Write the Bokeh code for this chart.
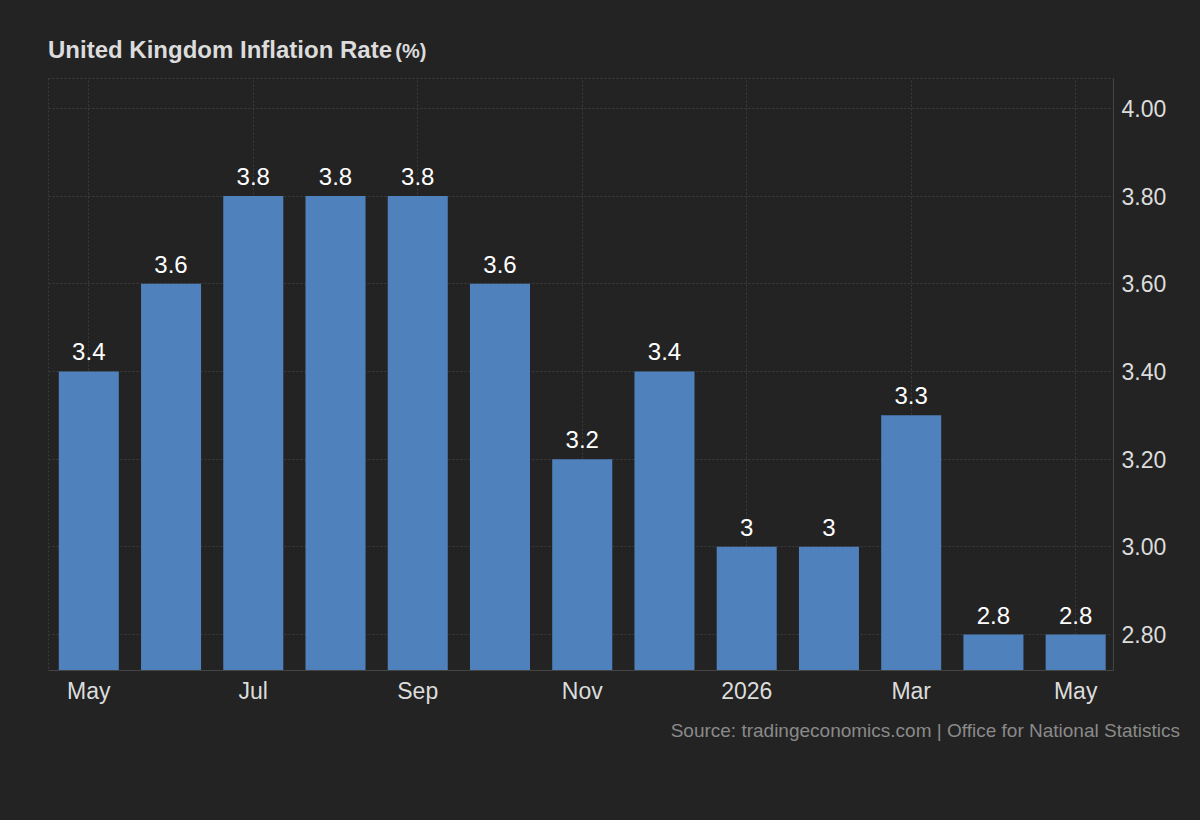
from bokeh.plotting import figure
from bokeh.models import ColumnDataSource, Range1d, FixedTicker, NumeralTickFormatter, Div
from bokeh.layouts import column
from bokeh.core.properties import value
from bokeh.embed import file_html
from bokeh.resources import INLINE

months = ["May 2025", "Jun 2025", "Jul 2025", "Aug 2025", "Sep 2025", "Oct 2025", "Nov 2025",
          "Dec 2025", "Jan 2026", "Feb 2026", "Mar 2026", "Apr 2026", "May 2026"]
rates = [3.4, 3.6, 3.8, 3.8, 3.8, 3.6, 3.2, 3.4, 3.0, 3.0, 3.3, 2.8, 2.8]
tick_labels = {0: "May", 2: "Jul", 4: "Sep", 6: "Nov", 8: "2026", 10: "Mar", 12: "May"}
y_ticks = [2.8, 3.0, 3.2, 3.4, 3.6, 3.8, 4.0]
title_text = "United Kingdom Inflation Rate"
unit_text = "(%)"
source_text = "Source: tradingeconomics.com | Office for National Statistics"

BG = "#232323"
FONT = "Liberation Sans"

idx = list(range(len(months)))
src = ColumnDataSource(dict(x=idx, month=months, rate=rates,
                            lbl=[f"{v:g}" for v in rates]))

p = figure(width=1200, height=640, output_backend="svg", toolbar_location=None,
           x_range=Range1d(-0.49, 12.46), y_range=Range1d(2.718, 4.068),
           y_axis_location="right", margin=0,
           min_border_left=48, min_border_right=87, min_border_top=8, min_border_bottom=40)
p.background_fill_color = BG
p.border_fill_color = BG
p.outline_line_color = "#3c3c3c"
p.outline_line_dash = "2 2"

p.vbar(x="x", top="rate", bottom=2.0, width=0.73, source=src,
       fill_color="#4f81bd", line_color=None)

p.text(x="x", y="rate", text="lbl", source=src, text_align="center", text_baseline="bottom",
       y_offset=-11, text_font=value(FONT), text_font_size="24px", text_color="#ffffff")

xa = p.xaxis[0]
xa.ticker = FixedTicker(ticks=list(tick_labels.keys()))
xa.major_label_overrides = tick_labels
xa.major_label_text_font = FONT
xa.major_label_text_font_size = "23px"
xa.major_label_text_color = "#dcdcdc"
xa.major_tick_line_color = None
xa.major_tick_out = 0
xa.major_tick_in = 0
xa.minor_tick_line_color = None
xa.axis_line_color = "#454545"
xa.major_label_standoff = 7

ya = p.yaxis[0]
ya.ticker = FixedTicker(ticks=y_ticks)
ya.formatter = NumeralTickFormatter(format="0.00")
ya.major_label_text_font = FONT
ya.major_label_text_font_size = "23px"
ya.major_label_text_color = "#dcdcdc"
ya.major_tick_line_color = None
ya.major_tick_out = 0
ya.major_tick_in = 0
ya.minor_tick_line_color = None
ya.axis_line_color = "#454545"
ya.major_label_standoff = 8

p.xgrid.grid_line_color = "#3c3c3c"
p.xgrid.grid_line_dash = "2 2"
p.ygrid.grid_line_color = "#3c3c3c"
p.ygrid.grid_line_dash = "2 2"

top = Div(width=1200, height=70, margin=0,
          styles={"background-color": BG, "overflow": "hidden"},
          text=(f'<div style="position:relative;width:1200px;height:70px;background:{BG};">'
                f'<div style="position:absolute;left:48px;top:37px;white-space:nowrap;line-height:26px;'
                f'font-family:\'{FONT}\';font-weight:bold;color:#dcdcdc;">'
                f'<span style="font-size:24px;">{title_text}</span> '
                f'<span style="font-size:20px;">{unit_text}</span></div></div>'))

bottom = Div(width=1200, height=110, margin=0,
             styles={"background-color": BG, "overflow": "hidden"},
             text=(f'<div style="position:relative;width:1200px;height:110px;background:{BG};">'
                   f'<div style="position:absolute;right:20px;top:10px;white-space:nowrap;line-height:22px;'
                   f'font-family:\'{FONT}\';font-size:19px;color:#8a8a8a;">{source_text}</div></div>'))

layout = column(top, p, bottom, spacing=0, margin=0, styles={"background-color": BG})

open("out.html", "w").write(file_html(layout, INLINE))
